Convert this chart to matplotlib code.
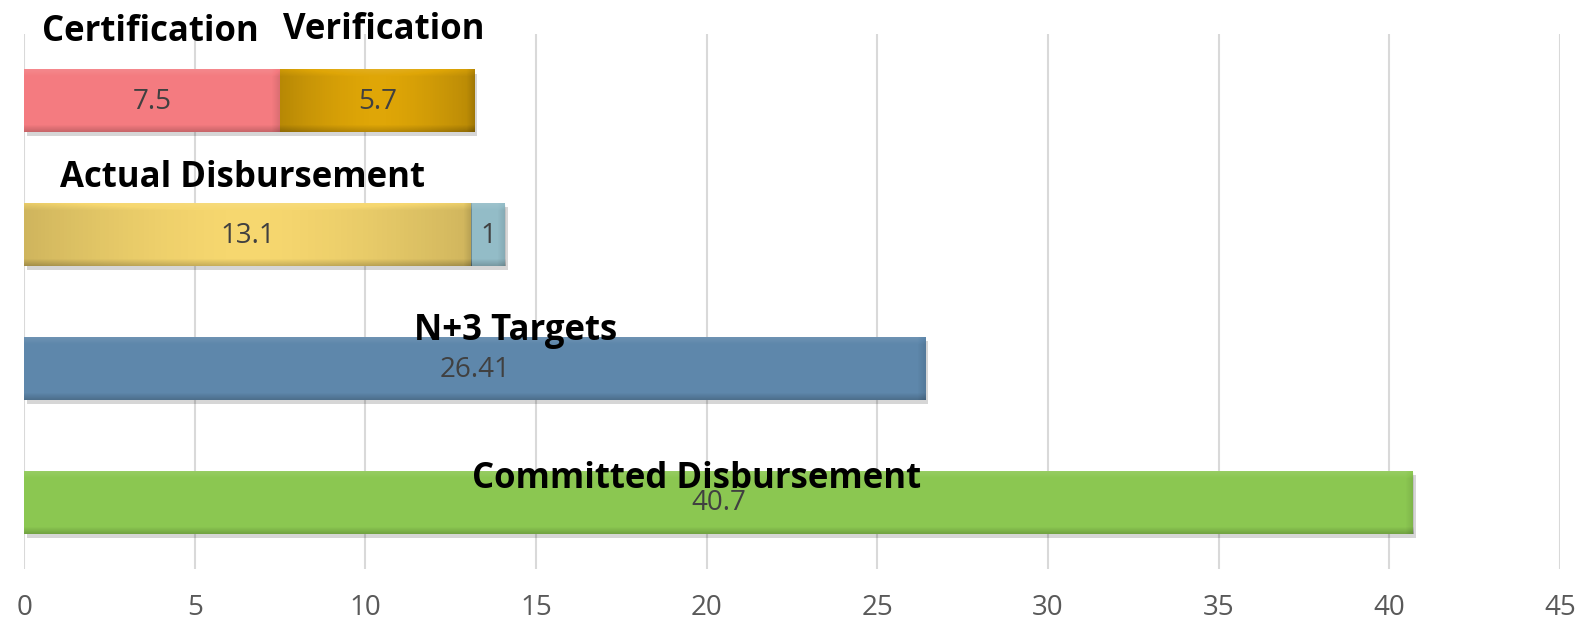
import matplotlib
matplotlib.use("Agg")
import numpy as np
import matplotlib.pyplot as plt
import matplotlib.patheffects as pe

# Rows from top to bottom
rows = ["Certification / Verification", "Actual Disbursement", "N+3 Targets", "Committed Disbursement"]
first_values = [7.5, 13.1, 26.41, 40.7]
second_values = [5.7, 1, 0, 0]
first_colors = ["#F47B80", "#F6D76F", "#5E87AB", "#8BC751"]
second_colors = ["#DFA607", "#93BCC7", "none", "none"]
first_names = ["Certification", "Actual Disbursement", "N+3 Targets", "Committed Disbursement"]
second_names = ["Verification", None, None, None]
x_ticks = [0, 5, 10, 15, 20, 25, 30, 35, 40, 45]

plt.rcParams["font.family"] = ["Open Sans", "DejaVu Sans"]

fig = plt.figure(figsize=(15.81, 6.22), dpi=100)
ax = fig.add_axes([0.0153, 0.0852, 0.9714, 0.8601])
ax.set_xlim(0, 45)
ax.set_ylim(3.5, -0.5)

shadow = [pe.SimplePatchShadow(offset=(2, -3), shadow_rgbFace="#000000", alpha=0.16), pe.Normal()]
bar_h = 0.47
ypos = list(range(len(rows)))

bars1 = ax.barh(ypos, first_values, height=bar_h, color=first_colors, zorder=3,
                edgecolor="none", path_effects=shadow)
bars2 = ax.barh(ypos, second_values, left=first_values, height=bar_h,
                color=second_colors, zorder=3, edgecolor="none", path_effects=shadow)


def bevel(patch, side_shade=0.0):
    """Overlay a soft bevel (light top, darker bottom and right end) on a bar."""
    x0, y0 = patch.get_x(), patch.get_y()
    w, h = patch.get_width(), patch.get_height()
    if w <= 0 or patch.get_facecolor()[3] == 0:
        return
    px_per_x = ax.bbox.width / 45.0
    W = max(int(w * px_per_x), 4)
    H = 64
    shade = np.zeros((H, W))   # positive -> darker, negative -> lighter
    b = 8
    ramp = np.linspace(1, 0, b)
    shade[:b, :] -= 0.10 * ramp[:, None]
    shade[-b:, :] += 0.18 * ramp[::-1][:, None]
    rb = min(9, W // 3)
    shade[:, W - rb:] += 0.10 * np.linspace(0, 1, rb)[None, :]
    if side_shade > 0:
        xs = np.linspace(-1, 1, W)
        shade += side_shade * np.abs(xs)[None, :] ** 1.6
    rgba = np.zeros((H, W, 4))
    light = shade < 0
    rgba[light, :3] = 1.0
    rgba[..., 3] = np.clip(np.abs(shade), 0, 1)
    ax.imshow(rgba, extent=(x0, x0 + w, y0 + h, y0), aspect="auto",
              interpolation="bilinear", zorder=4, clip_path=patch, clip_on=True)


first_shades = [0.0, 0.16, 0.0, 0.0]
second_shades = [0.18, 0.0, 0.0, 0.0]
for p, s in zip(bars1.patches, first_shades):
    bevel(p, s)
for p, s in zip(bars2.patches, second_shades):
    bevel(p, s)

# value labels, centred in each segment
for i, (v1, v2) in enumerate(zip(first_values, second_values)):
    ax.text(v1 / 2, i + 0.01, f"{v1:g}", ha="center", va="center", fontsize=20,
            color="#404040", zorder=5)
    if v2:
        ax.text(v1 + v2 / 2, i + 0.01, f"{v2:g}", ha="center", va="center",
                fontsize=20, color="#404040", zorder=5)

# series name labels
name_pos = [(3.7, -0.515), (6.4, -0.425), (14.4, -0.28), (19.7, -0.17)]
for i, ((x, dy), name) in enumerate(zip(name_pos, first_names)):
    ax.text(x, i + dy, name, ha="center", va="center", fontsize=25, fontweight="bold",
            color="black", zorder=6)
ax.text(10.55, -0.53, second_names[0], ha="center", va="center", fontsize=25,
        fontweight="bold", color="black", zorder=6)

ax.set_xticks(x_ticks)
ax.set_xticklabels([str(t) for t in x_ticks], fontsize=20, color="#595959")
ax.set_yticks([])
ax.tick_params(axis="x", length=0, pad=18)
ax.grid(axis="x", color="#D9D9D9", linewidth=1.5, zorder=0)
ax.set_axisbelow(True)
for s in ax.spines.values():
    s.set_visible(False)

fig.savefig("out.png", dpi=100, facecolor="white")
